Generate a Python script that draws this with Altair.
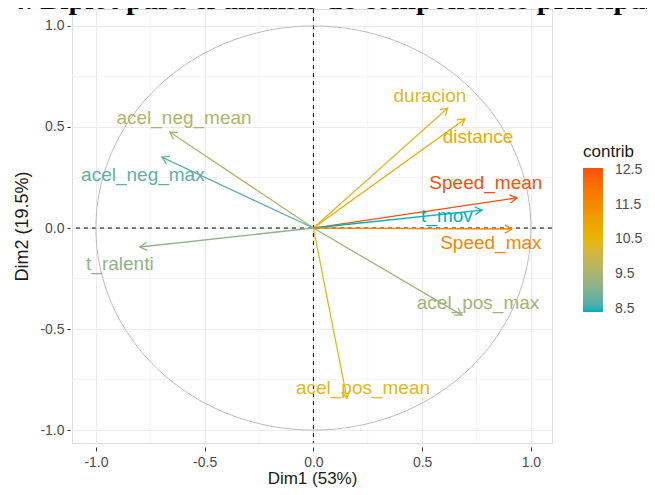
import altair as alt
import numpy as np
import pandas as pd

title_text = "Figura 4. Biplot para el análisis de componentes principales"

variables = ["acel_neg_mean", "acel_neg_max", "t_ralenti", "duracion", "distance",
             "Speed_mean", "t_mov", "Speed_max", "acel_pos_max", "acel_pos_mean"]
dim1 = [-0.660, -0.697, -0.798, 0.618, 0.697, 0.936, 0.775, 0.913, 0.683, 0.154]
dim2 = [0.475, 0.351, -0.094, 0.594, 0.540, 0.149, 0.089, -0.005, -0.431, -0.842]
contrib = [9.6, 8.75, 9.2, 10.3, 10.8, 12.56, 8.41, 11.6, 9.4, 10.4]
label_x = [-0.595, -0.784, -0.890, 0.536, 0.757, 0.793, 0.614, 0.816, 0.757, 0.228]
label_y = [0.545, 0.262, -0.178, 0.653, 0.450, 0.223, 0.059, -0.074, -0.371, -0.792]

major_ticks = [-1.0, -0.5, 0.0, 0.5, 1.0]
minor_ticks = [-0.75, -0.25, 0.25, 0.75]
legend_ticks = [8.5, 9.5, 10.5, 11.5, 12.5]
grad_colors = ["#00AFBB", "#E7B800", "#FC4E07"]

W, H = 480, 434
xdom = [-1.110, 1.097]
ydom = [-1.064, 1.084]
FONT = "Liberation Sans"

df = pd.DataFrame({"var": variables, "x": dim1, "y": dim2, "contrib": contrib,
                   "lx": label_x, "ly": label_y})
df["x0"] = 0.0
df["y0"] = 0.0
pxx = W / (xdom[1] - xdom[0])
pxy = H / (ydom[1] - ydom[0])
df["ang"] = np.degrees(np.arctan2(-df["y"] * pxy, df["x"] * pxx)) % 360

# reference unit circle (construction, not data)
t = np.linspace(0, 2 * np.pi, 181)
circ = pd.DataFrame({"x": np.cos(t), "y": np.sin(t), "i": np.arange(len(t))})

cmin, cmax = min(contrib), max(contrib)
cscale = alt.Scale(domain=[cmin, (cmin + cmax) / 2, cmax], range=grad_colors, interpolate="lab")

lab_expr = "datum.value < 0 ? '-' + format(-datum.value, '.1f') : format(datum.value, '.1f')"
xaxis = alt.Axis(title="Dim1 (53%)", values=major_ticks, labelExpr=lab_expr, grid=True,
                 gridColor="#EBEBEB", gridWidth=1, domain=False, ticks=True, tickSize=4,
                 tickColor="#333333", tickWidth=1, labelFontSize=14, labelColor="#4D4D4D",
                 labelFont=FONT, labelPadding=4, offset=4, labelFlush=False,
                 labelOverlap=False, titleFontSize=17, titleFont=FONT,
                 titleFontWeight="normal", titleColor="#1A1A1A",
                 titleBaseline="alphabetic", titleY=36)
yaxis = alt.Axis(title="Dim2 (19.5%)", values=major_ticks, labelExpr=lab_expr, grid=True,
                 gridColor="#EBEBEB", gridWidth=1, domain=False, ticks=True, tickSize=3,
                 tickColor="#333333", tickWidth=1, labelFontSize=14, labelColor="#4D4D4D",
                 labelFont=FONT, labelPadding=3, offset=2, labelFlush=False,
                 labelOverlap=False, titleFontSize=18, titleFont=FONT,
                 titleFontWeight="normal", titleColor="#1A1A1A",
                 titleBaseline="middle", titleX=-48)
xs = alt.Scale(domain=xdom, nice=False, zero=False)
ys = alt.Scale(domain=ydom, nice=False, zero=False)


def X(f):
    return alt.X(f, type="quantitative", scale=xs, axis=xaxis)


def Y(f):
    return alt.Y(f, type="quantitative", scale=ys, axis=yaxis)


minor_df = pd.DataFrame({"v": minor_ticks})
minor_v = alt.Chart(minor_df).mark_rule(color="#F2F2F2", strokeWidth=0.8).encode(x=X("v"))
minor_h = alt.Chart(minor_df).mark_rule(color="#F2F2F2", strokeWidth=0.8).encode(y=Y("v"))

zero_df = pd.DataFrame({"v": [0.0]})
dash_v = alt.Chart(zero_df).mark_rule(color="black", strokeDash=[4, 4], strokeWidth=1).encode(x=X("v"))
dash_h = alt.Chart(zero_df).mark_rule(color="black", strokeDash=[4, 4], strokeWidth=1).encode(y=Y("v"))

circle = alt.Chart(circ).mark_line(color="#BDBDBD", strokeWidth=1).encode(
    x=X("x"), y=Y("y"), order="i:Q")

legend = alt.Legend(
    title="contrib", type="gradient", values=legend_ticks, orient="none", legendX=511,
    legendY=135, direction="vertical", gradientLength=144, gradientThickness=20,
    titleFontSize=17, titleFont=FONT, titleFontWeight="normal", titleColor="#1A1A1A",
    titlePadding=7, labelFontSize=14, labelFont=FONT, labelColor="#4D4D4D",
    labelOffset=12, padding=0, format=".1f", gradientStrokeWidth=0)

arrows = alt.Chart(df).mark_rule(strokeWidth=1.3).encode(
    x=X("x0"), y=Y("y0"), x2="x", y2="y",
    color=alt.Color("contrib:Q", scale=cscale, legend=legend))

heads = alt.Chart(df).mark_point(shape="M-1,-0.577L0,0L-1,0.577", filled=False, size=200,
                                  strokeWidth=1.3, opacity=1).encode(
    x=X("x"), y=Y("y"), angle=alt.Angle("ang:Q", scale=None),
    color=alt.Color("contrib:Q", scale=cscale, legend=None))

labels = alt.Chart(df).mark_text(fontSize=19, font=FONT, baseline="middle", align="center").encode(
    x=X("lx"), y=Y("ly"), text="var:N",
    color=alt.Color("contrib:Q", scale=cscale, legend=None))

title = alt.Chart(pd.DataFrame({"t": [title_text]})).mark_text(
    font="Liberation Serif", fontWeight="bold", fontSize=30, align="left",
    baseline="alphabetic", color="black").encode(
    x=alt.value(-156), y=alt.value(0), text="t:N")

chart = alt.layer(minor_v, minor_h, dash_v, dash_h, circle, arrows, heads, labels, title).resolve_legend(
    color="independent"
).properties(
    width=W, height=H,
    autosize=alt.AutoSizeParams(type="none"),
    padding={"left": 64, "top": 1, "right": 95, "bottom": 44},
).configure_view(stroke=None).configure(background="white")

chart.save("out.html", embed_options={"renderer": "svg", "actions": False})
